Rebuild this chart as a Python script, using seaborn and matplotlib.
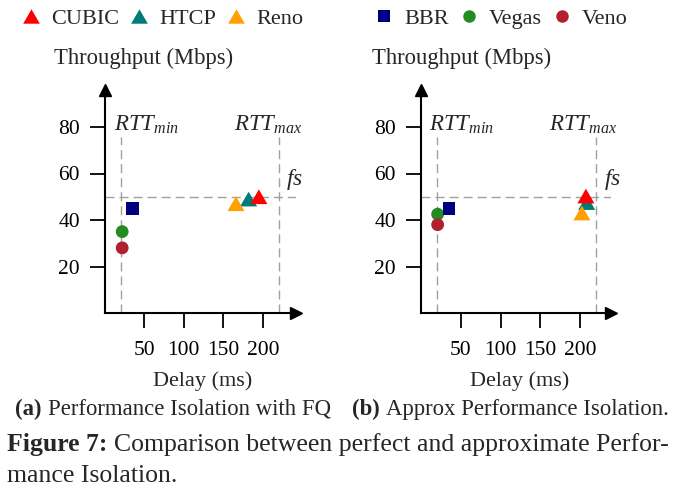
import numpy as np
import pandas as pd
import matplotlib
matplotlib.use("Agg")
import matplotlib.pyplot as plt
import seaborn as sns
from matplotlib.lines import Line2D

# data
protocols = ["Vegas", "Veno", "BBR", "HTCP", "CUBIC", "Reno"]
delay_fq = [22, 22, 35, 182, 195, 166]
thr_fq = [35, 28, 45, 49, 50, 47]
delay_approx = [21, 21, 35, 208, 207, 202]
thr_approx = [42.5, 38, 45, 47.5, 50.3, 43]

rtt_min = 20
rtt_max = 220
fair_share = 50

colors = {"CUBIC": "#ff0000", "HTCP": "#007b78", "Reno": "#ffa000",
          "BBR": "#00007e", "Vegas": "#238b22", "Veno": "#b0202e"}
tri = [(-1, -0.866), (1, -0.866), (0, 0.866)]
markers = {"CUBIC": tri, "HTCP": tri, "Reno": tri,
           "BBR": "s", "Vegas": "o", "Veno": "o"}
sizes = {"CUBIC": 150, "HTCP": 150, "Reno": 150,
         "BBR": 80, "Vegas": 85, "Veno": 85}

df = pd.DataFrame({
    "protocol": protocols * 2,
    "delay": delay_fq + delay_approx,
    "throughput": thr_fq + thr_approx,
    "panel": ["a"] * 6 + ["b"] * 6,
})

sns.set_style("ticks")
plt.rcParams["font.family"] = ["Liberation Serif", "DejaVu Serif"]
plt.rcParams["mathtext.fontset"] = "custom"
plt.rcParams["mathtext.rm"] = "Liberation Serif"
plt.rcParams["mathtext.it"] = "Liberation Serif:italic"
plt.rcParams["mathtext.bf"] = "Liberation Serif:bold"

W, H = 674, 493
fig = plt.figure(figsize=(W / 100, H / 100), dpi=100)


def px_rect(left, top, right, bottom):
    return [left / W, 1 - bottom / H, (right - left) / W, (bottom - top) / H]


def fx(x):
    return x / W


def fy(y):
    return 1 - y / H


ax_a = fig.add_axes(px_rect(104.8, 89.8, 296, 313))
ax_b = fig.add_axes(px_rect(420.9, 89.8, 611, 313))

grey = "#a0a0a0"
for ax, panel, xmax, rx in [(ax_a, "a", 242, (53, 206)), (ax_b, "b", 238.5, (51, 204))]:
    sub = df[df["panel"] == panel]
    ax.vlines([rtt_min, rtt_max], 0, 75.8, colors=grey, lw=1.0,
              linestyles=(0, (6.5, 3.6)), zorder=1)
    ax.axhline(fair_share, color=grey, lw=1.0, dashes=(6.5, 3.6), zorder=1)
    sns.scatterplot(data=sub, x="delay", y="throughput", hue="protocol",
                    style="protocol", size="protocol", palette=colors,
                    markers=markers, sizes=sizes, linewidth=0,
                    legend=False, ax=ax, zorder=3)
    ax.set_xlim(0, xmax)
    ax.set_ylim(0, 96)
    ax.set_xticks([50, 100, 150, 200])
    ax.set_yticks([20, 40, 60, 80])
    ax.set_xlabel("")
    ax.set_ylabel("")
    ax.tick_params(direction="out", length=11, width=1.3, labelsize=15.5,
                   color="black", labelcolor="black")
    ax.tick_params(axis="x", pad=9)
    ax.tick_params(axis="y", pad=7)
    for s in ["top", "right"]:
        ax.spines[s].set_visible(False)
    for s in ["left", "bottom"]:
        ax.spines[s].set_linewidth(1.5)
        ax.spines[s].set_color("black")
    # arrow heads
    ax.plot(1, 0, ">k", ms=9, transform=ax.get_yaxis_transform(), clip_on=False)
    ax.plot(0, 1, "^k", ms=9, transform=ax.get_xaxis_transform(), clip_on=False)
    ax.text(rx[0], 81, "$RTT_{min}$", ha="center", va="center", fontsize=16.5)
    ax.text(rx[1], 81, "$RTT_{max}$", ha="center", va="center", fontsize=16.5)
    ax.text(240, 57.5, "$fs$", ha="center", va="center", fontsize=17)

# axis titles placed like the figure
fig.text(fx(144), fy(58), "Throughput (Mbps)", ha="center", va="center", fontsize=16.3)
fig.text(fx(462), fy(58), "Throughput (Mbps)", ha="center", va="center", fontsize=16.3)
fig.text(fx(203), fy(381), "Delay (ms)", ha="center", va="center", fontsize=16)
fig.text(fx(520), fy(381), "Delay (ms)", ha="center", va="center", fontsize=16)

# legends on top
def handle(p):
    ms = 12 if markers[p] is tri else 9
    return Line2D([], [], ls="none", marker=markers[p], color=colors[p], ms=ms, mew=0)


left_names = ["CUBIC", "HTCP", "Reno"]
right_names = ["BBR", "Vegas", "Veno"]
for names, x0 in [(left_names, 20), (right_names, 373)]:
    fig.legend([handle(p) for p in names], names, loc="center left",
               bbox_to_anchor=(fx(x0), fy(18.3)), ncol=3, frameon=False,
               fontsize=16, handlelength=1.0, handletextpad=0.4,
               columnspacing=0.4, borderpad=0, borderaxespad=0)

renderer = fig.canvas.get_renderer()


def caption(x, y, bold, rest, size, gap):
    t = fig.text(fx(x), fy(y), bold, fontweight="bold", fontsize=size, va="baseline")
    x1 = t.get_window_extent(renderer).x1
    fig.text((x1 + gap) / W, fy(y), rest, fontsize=size, va="baseline")


# sub captions and figure caption
caption(15, 415, "(a)", "Performance Isolation with FQ", 16.4, 6)
caption(352, 415, "(b)", "Approx Performance Isolation.", 16.4, 6)
caption(7, 451, "Figure 7:", "Comparison between perfect and approximate Perfor-", 18.5, 7)
fig.text(fx(7), fy(482), "mance Isolation.", fontsize=18.5, va="baseline")

fig.savefig("out.png", dpi=100)
